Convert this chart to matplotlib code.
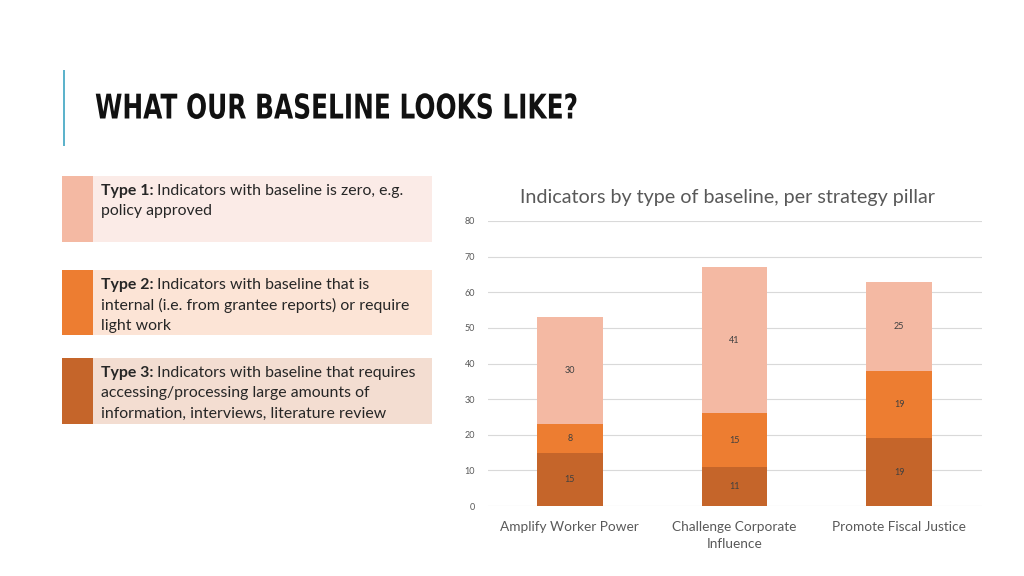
import matplotlib
matplotlib.use("Agg")
import matplotlib.pyplot as plt
from matplotlib.patches import Rectangle
from matplotlib.patheffects import AbstractPathEffect
from matplotlib.transforms import Affine2D
import numpy as np

# ---- data ----
categories = ["Amplify Worker Power", "Challenge Corporate\nInfluence", "Promote Fiscal Justice"]
type3 = [15, 11, 19]
type2 = [8, 15, 19]
type1 = [30, 41, 25]
yticks = [0, 10, 20, 30, 40, 50, 60, 70, 80]

title = "WHAT OUR BASELINE LOOKS LIKE?"
chart_title = "Indicators by type of baseline, per strategy pillar"
legend_bold = ["Type 1:", "Type 2:", "Type 3:"]
legend_lines = [
    ["Indicators with baseline is zero, e.g.", "policy approved"],
    ["Indicators with baseline that is", "internal (i.e. from grantee reports) or require", "light work"],
    ["Indicators with baseline that requires", "accessing/processing large amounts of", "information, interviews, literature review"],
]

c1 = "#F4B9A3"
c2 = "#ED7D31"
c3 = "#C5652A"
box_bg = ["#FBEBE7", "#FCE4D6", "#F3DDD1"]
swatch = [c1, c2, c3]

W, H = 1024, 576
fig = plt.figure(figsize=(W / 100, H / 100), dpi=100)
fig.patch.set_facecolor("white")

def fx(x):
    return x / W

def fy(y):
    return 1 - y / H

body_font = ["Lato", "DejaVu Sans"]


class HScale(AbstractPathEffect):
    """Condense text horizontally around a fixed left anchor (display px)."""
    def __init__(self, sx, x0):
        super().__init__()
        self.sx = sx
        self.x0 = x0

    def draw_path(self, renderer, gc, tpath, affine, rgbFace=None):
        aff = affine + Affine2D().translate(-self.x0, 0).scale(self.sx, 1).translate(self.x0, 0)
        renderer.draw_path(gc, tpath, aff, rgbFace)


# title accent bar
fig.add_artist(Rectangle((fx(62.5), fy(146)), 2.5 / W, 76 / H, transform=fig.transFigure,
                         facecolor="#5DB3CB", edgecolor="none"))
tt = fig.text(fx(95), fy(109), title, fontsize=24.5, fontweight="bold",
              family="DejaVu Sans", color="#111111", va="center", ha="left")
fig.canvas.draw()
bb = tt.get_window_extent()
target_w = 578 - 95
sx = target_w / bb.width if bb.width > 0 else 1.0
tt.set_path_effects([HScale(sx, bb.x0)])

# legend boxes
boxes = [(176, 242), (270, 335), (358, 424)]
for i, (top, bot) in enumerate(boxes):
    fig.add_artist(Rectangle((fx(62), fy(bot)), (432 - 62) / W, (bot - top) / H,
                             transform=fig.transFigure, facecolor=box_bg[i], edgecolor="none"))
    fig.add_artist(Rectangle((fx(62), fy(bot)), (93 - 62) / W, (bot - top) / H,
                             transform=fig.transFigure, facecolor=swatch[i], edgecolor="none"))
    y0 = top + 15
    for j, line in enumerate(legend_lines[i]):
        yy = y0 + j * 20.5
        if j == 0:
            t = fig.text(fx(101), fy(yy), legend_bold[i], fontsize=11.4, fontweight="bold",
                         family=body_font, color="#262626", va="center", ha="left")
            fig.canvas.draw()
            b = t.get_window_extent()
            fig.text(b.x1 / W + 3.5 / W, fy(yy), line, fontsize=11.4, family=body_font,
                     color="#262626", va="center", ha="left")
        else:
            fig.text(fx(101), fy(yy), line, fontsize=11.4, family=body_font,
                     color="#262626", va="center", ha="left")

# chart
ax = fig.add_axes([fx(487.5), fy(506), (981.5 - 487.5) / W, (506 - 221) / H])
x = np.arange(len(categories))
bw = 0.4
b3 = ax.bar(x, type3, width=bw, color=c3, zorder=3)
b2 = ax.bar(x, type2, width=bw, bottom=type3, color=c2, zorder=3)
bottom1 = np.array(type3) + np.array(type2)
b1 = ax.bar(x, type1, width=bw, bottom=bottom1, color=c1, zorder=3)
for bars in (b3, b2, b1):
    ax.bar_label(bars, label_type="center", fontsize=6.5, color="#404040", family=body_font)

ax.set_xlim(-0.5, 2.5)
ax.set_ylim(0, 80)
ax.set_yticks(yticks)
ax.set_xticks(x)
ax.set_xticklabels(categories, fontsize=9.8, color="#595959", family=body_font, linespacing=1.45)
for lab in ax.get_yticklabels():
    lab.set_fontsize(6.5)
    lab.set_color("#595959")
    lab.set_family(body_font)
ax.grid(axis="y", color="#D9D9D9", linewidth=0.8, zorder=0)
for s in ax.spines.values():
    s.set_visible(False)
ax.tick_params(axis="both", length=0)
ax.tick_params(axis="y", pad=9)
ax.tick_params(axis="x", pad=11)
ax.set_facecolor("none")

fig.text(fx(727), fy(197), chart_title, fontsize=14.2, family=body_font, color="#595959",
         ha="center", va="center")

fig.savefig("out.png", dpi=100, facecolor="white")
